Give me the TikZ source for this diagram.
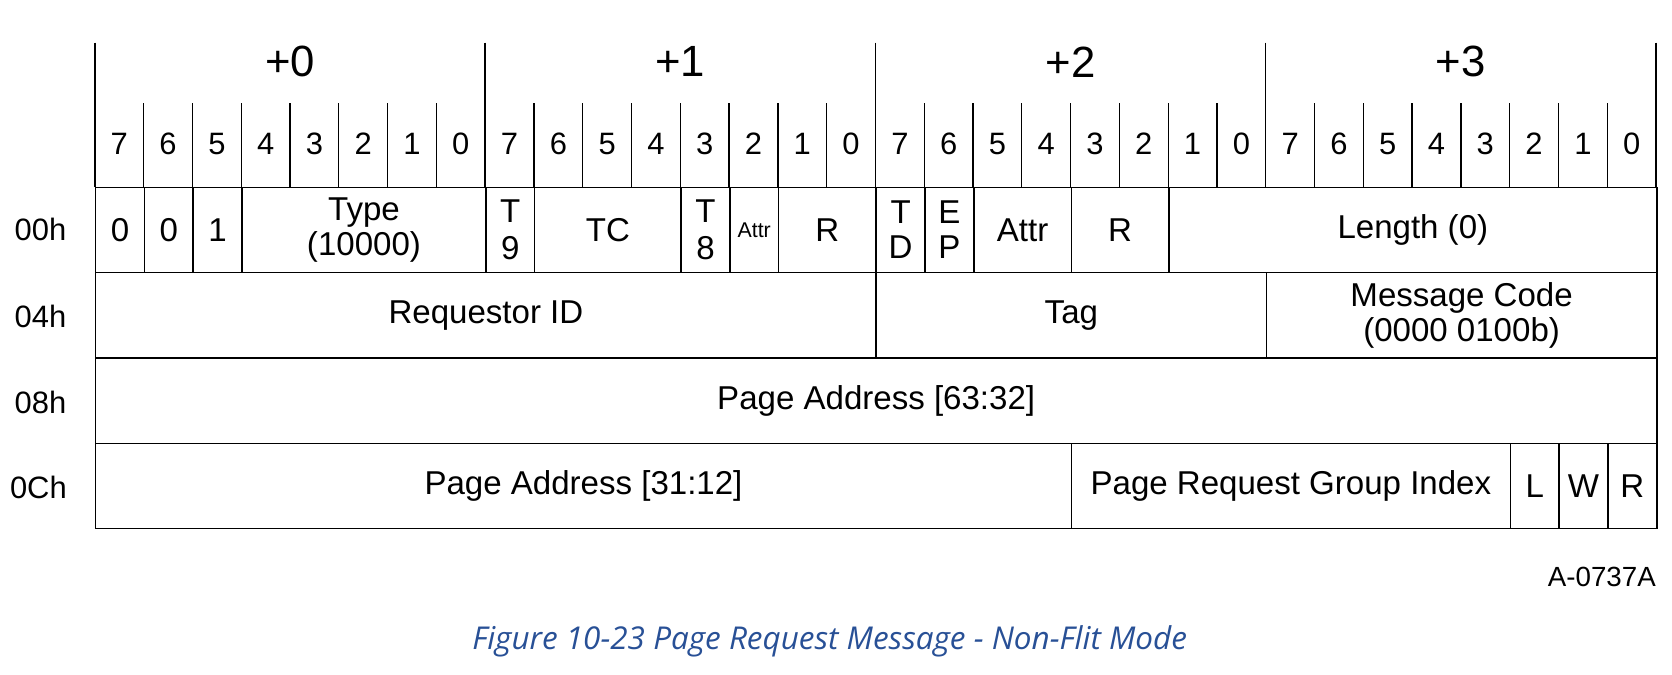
\documentclass[tikz,border=0pt]{standalone}
\usepackage{fontspec}
\setmainfont{Liberation Sans}
\newfontfamily\capfont{Open Sans}
\definecolor{capblue}{RGB}{40,80,150}
\tikzset{
  fld/.style={draw,line width=1.4pt,inner sep=0pt,anchor=north west,align=center,font=\fontsize{31}{33}\selectfont},
  bitn/.style={font=\fontsize{29}{31}\selectfont,inner sep=0pt},
  byten/.style={font=\fontsize{41}{43}\selectfont,inner sep=0pt},
  rown/.style={font=\fontsize{29}{30}\selectfont,inner sep=0pt},
}
\newcommand{\cx}[1]{89+45.75*#1}
% name, start col, end col (exclusive), row index, text
\newcommand{\fld}[5]{\node[fld,minimum width={45.75*(#3-#2)*1pt},minimum height=80pt] (#1) at ({\cx{#2}},{175+80*#4}) {#5};}
\begin{document}
\begin{tikzpicture}[x=1pt,y=-1pt]
\useasboundingbox (0,0) rectangle (1568,633);
% header lines
\foreach \i in {0,...,32}{
  \pgfmathtruncatemacro{\m}{mod(\i,8)}
  \ifnum\m=0 \draw[line width=1.4pt] ({\cx{\i}},40) -- ({\cx{\i}},175);
  \else \draw[line width=1.2pt] ({\cx{\i}},97) -- ({\cx{\i}},175); \fi
}
\foreach \b in {0,...,3}{
  \node[byten] (byte\b) at ({\cx{(8*\b+4)}},58) {+\b};
  \foreach \k in {0,...,7}{
    \pgfmathtruncatemacro{\v}{7-\k}
    \node[bitn] (bit\b\k) at ({\cx{(8*\b+\k+0.5)}},135) {\v};
  }
}
% row labels
\node[rown] (r0) at (38,215) {00h};
\node[rown] (r1) at (38,297) {04h};
\node[rown] (r2) at (38,377) {08h};
\node[rown] (r3) at (36,457) {0Ch};
% row 00h
\fld{f0}{0}{1}{0}{0}
\fld{f1}{1}{2}{0}{0}
\fld{f2}{2}{3}{0}{1}
\fld{type}{3}{8}{0}{Type\\(10000)}
\fld{t9}{8}{9}{0}{T\\[2pt]9}
\fld{tc}{9}{12}{0}{TC}
\fld{t8}{12}{13}{0}{T\\[2pt]8}
\fld{attra}{13}{14}{0}{\fontsize{20}{22}\selectfont Attr}
\fld{ra}{14}{16}{0}{R}
\fld{td}{16}{17}{0}{T\\D}
\fld{ep}{17}{18}{0}{E\\P}
\fld{attrb}{18}{20}{0}{Attr}
\fld{rb}{20}{22}{0}{R}
\fld{len}{22}{32}{0}{Length (0)}
% row 04h
\fld{rid}{0}{16}{1}{Requestor ID}
\fld{tag}{16}{24}{1}{Tag}
\fld{mc}{24}{32}{1}{Message Code\\(0000 0100b)}
% row 08h
\fld{pah}{0}{32}{2}{Page Address [63:32]}
% row 0Ch
\fld{pal}{0}{20}{3}{Page Address [31:12]}
\fld{prgi}{20}{29}{3}{Page Request Group Index}
\fld{l}{29}{30}{3}{L}
\fld{w}{30}{31}{3}{W}
\fld{r}{31}{32}{3}{R}
\node[font=\fontsize{26}{28}\selectfont,anchor=east,inner sep=0pt] (fig) at (1553,541) {A-0737A};
\node[font=\capfont\itshape\fontsize{29.5}{31}\selectfont,text=capblue,inner sep=0pt] (cap) at (778,601) {Figure 10-23 Page Request Message - Non-Flit Mode};
\end{tikzpicture}
\end{document}
